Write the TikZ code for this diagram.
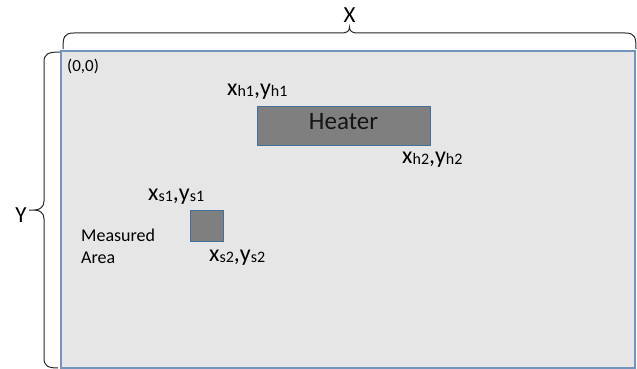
\documentclass[tikz,border=0pt]{standalone}
\usepackage{fontspec}
\setmainfont{Carlito}
\definecolor{areafill}{RGB}{230,230,230}
\definecolor{areaborder}{RGB}{115,148,188}
\definecolor{boxfill}{RGB}{127,127,127}
\definecolor{boxborder}{RGB}{65,113,156}
\definecolor{bracecol}{RGB}{40,40,40}
\newcommand{\subfnt}[1]{\raisebox{-1pt}{\fontsize{16}{16}\selectfont #1}}
\newcommand{\coordlab}[4]{#1\subfnt{#2},#3\subfnt{#4}}
\tikzset{
  area/.style={draw=areaborder, fill=areafill, line width=1.2pt, inner sep=0, minimum width=574pt, minimum height=317pt},
  solidbox/.style={draw=boxborder, fill=boxfill, line width=1pt, inner sep=0},
  bracestyle/.style={draw=bracecol, line width=1pt},
  lab/.style={inner sep=0, anchor=base west, font=\fontsize{24}{24}\selectfont},
  small/.style={inner sep=0, anchor=base west, font=\fontsize{17}{17}\selectfont},
  dimlab/.style={inner sep=0, font=\fontsize{23}{23}\selectfont},
}
\begin{document}
\begin{tikzpicture}[x=1pt, y=-1pt]
\useasboundingbox (0,0) rectangle (637,369);
% main area
\node[area] (field) at (348,209.5) {};
% heater
\node[solidbox, minimum width=173pt, minimum height=39pt, text depth=8pt, font=\fontsize{25}{25}\selectfont, text=black!92] (heater) at (343.5,125.5) {Heater};
% sensor area
\node[solidbox, minimum width=33pt, minimum height=31pt] (sensor) at (206.5,225.5) {};
% labels
\node[small] (origin) at (67,71) {(0,0)};
\node[lab] (h1) at (227,95.5) {\coordlab{x}{h1}{y}{h1}};
\node[lab] (h2) at (402,163) {\coordlab{x}{h2}{y}{h2}};
\node[lab] (s1) at (148,200.5) {\coordlab{x}{s1}{y}{s1}};
\node[lab] (s2) at (209,261) {\coordlab{x}{s2}{y}{s2}};
\node[inner sep=0, anchor=base west, align=left, font=\fontsize{18}{22.5}\selectfont] (meas) at (81,263.5) {Measured\\Area};
% braces
\coordinate (tl) at (63,49);
\coordinate (tr) at (636,49);
\coordinate (ttip) at (349.5,27);
\draw[bracestyle] (tl) .. controls (63,37) and (64,33) .. (74,33) -- (342,33)
  .. controls (347,33) and (349.5,31) .. (ttip)
  .. controls (349.5,31) and (352,33) .. (357,33) -- (625,33)
  .. controls (635,33) and (636,37) .. (tr);
\coordinate (lt) at (60,52);
\coordinate (lb) at (58,368);
\coordinate (ltip) at (29,210);
\draw[bracestyle] (lt) .. controls (48,52) and (44,54) .. (44,62) -- (44,201)
  .. controls (44,207) and (40,210) .. (34,210) -- (ltip) -- (34,210)
  .. controls (40,210) and (44,213) .. (44,219) -- (44,358)
  .. controls (44,366) and (48,368) .. (lb);
\node[dimlab] (xlab) at (349.5,15) {X};
\node[dimlab] (ylab) at (21,215) {Y};
\end{tikzpicture}
\end{document}
